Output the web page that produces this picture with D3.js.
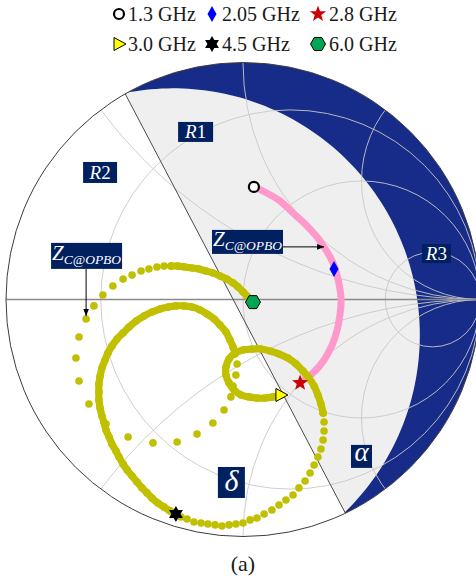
<!DOCTYPE html>
<html>
<head>
<meta charset="utf-8">
<script src="https://cdn.jsdelivr.net/npm/d3@7"></script>
<style>
  html, body { margin: 0; padding: 0; background: #ffffff; }
  svg { display: block; }
</style>
</head>
<body>
<svg id="chart" width="476" height="582"></svg>
<script>
// ---- Smith chart grid values ----
const gridResistance = [0.25, 1, 4];
const gridReactance = [0.5, 1, 2, -0.5, -1, -2];

// ---- Reflection-coefficient traces, [Re(Γ), Im(Γ)] ----
// Z_C from 1.3 GHz to 2.8 GHz
const zcTrace = [
  [0.046, 0.475], [0.101, 0.449], [0.156, 0.416], [0.211, 0.365], [0.262, 0.319],
  [0.312, 0.264], [0.350, 0.209], [0.380, 0.154], [0.401, 0.086], [0.414, -0.002],
  [0.409, -0.065], [0.397, -0.129], [0.376, -0.192], [0.342, -0.255], [0.300, -0.306],
  [0.262, -0.335]
];

// Swept load from 3.0 GHz to 6.0 GHz, split where the sample density changes
const sweepLoop = [
  [0.160, -0.403], [0.127, -0.411], [0.093, -0.416], [0.059, -0.416], [0.025, -0.411],
  [-0.008, -0.403], [-0.038, -0.382], [-0.059, -0.352], [-0.072, -0.319], [-0.072, -0.285],
  [-0.059, -0.251], [-0.034, -0.226], [0.000, -0.213], [0.038, -0.209], [0.076, -0.209],
  [0.114, -0.217], [0.152, -0.230], [0.190, -0.247], [0.224, -0.272], [0.253, -0.302],
  [0.278, -0.331], [0.300, -0.365], [0.316, -0.403], [0.329, -0.441], [0.338, -0.479]
];
const sweepOuter = [
  [0.338, -0.479], [0.342, -0.517], [0.342, -0.555], [0.338, -0.593], [0.329, -0.631],
  [0.316, -0.665], [0.300, -0.698], [0.283, -0.732], [0.262, -0.766], [0.236, -0.795],
  [0.211, -0.825], [0.181, -0.846], [0.152, -0.867], [0.122, -0.888], [0.089, -0.905],
  [0.059, -0.922], [0.030, -0.930], [0.000, -0.943], [-0.030, -0.947], [-0.059, -0.951],
  [-0.089, -0.956], [-0.118, -0.951], [-0.148, -0.947], [-0.177, -0.943], [-0.207, -0.939],
  [-0.236, -0.926], [-0.262, -0.918], [-0.283, -0.905]
];
const sweepInner = [
  [-0.283, -0.905], [-0.308, -0.892], [-0.333, -0.876], [-0.359, -0.859], [-0.384, -0.838],
  [-0.405, -0.816], [-0.426, -0.795], [-0.447, -0.770], [-0.468, -0.745], [-0.489, -0.719],
  [-0.506, -0.694], [-0.523, -0.665], [-0.536, -0.639], [-0.553, -0.610], [-0.565, -0.580],
  [-0.578, -0.551], [-0.586, -0.521], [-0.595, -0.492], [-0.603, -0.458], [-0.608, -0.424],
  [-0.608, -0.390], [-0.608, -0.357], [-0.603, -0.323], [-0.595, -0.289], [-0.582, -0.255],
  [-0.570, -0.226], [-0.553, -0.196], [-0.532, -0.167], [-0.506, -0.141], [-0.481, -0.116],
  [-0.451, -0.091], [-0.418, -0.070], [-0.384, -0.053], [-0.350, -0.040], [-0.316, -0.032],
  [-0.283, -0.027], [-0.249, -0.027], [-0.215, -0.032], [-0.181, -0.044], [-0.152, -0.061],
  [-0.122, -0.082], [-0.097, -0.108], [-0.072, -0.137], [-0.055, -0.171], [-0.042, -0.200],
  [-0.034, -0.230]
];
const sweepWide = [
  [-0.025, -0.272], [-0.030, -0.319], [-0.042, -0.365], [-0.051, -0.411], [-0.080, -0.466],
  [-0.127, -0.521], [-0.194, -0.568], [-0.278, -0.601], [-0.380, -0.605], [-0.485, -0.580],
  [-0.578, -0.525], [-0.650, -0.441], [-0.692, -0.344], [-0.705, -0.247], [-0.692, -0.158],
  [-0.662, -0.082], [-0.629, -0.027], [-0.591, 0.019], [-0.549, 0.057], [-0.506, 0.086],
  [-0.468, 0.103], [-0.430, 0.120], [-0.397, 0.129], [-0.363, 0.137], [-0.333, 0.141],
  [-0.304, 0.141]
];
const sweepTail = [
  [-0.304, 0.141], [-0.274, 0.141], [-0.245, 0.137], [-0.215, 0.133], [-0.186, 0.129],
  [-0.156, 0.120], [-0.127, 0.112], [-0.097, 0.099], [-0.068, 0.086], [-0.042, 0.070],
  [-0.021, 0.053], [0.000, 0.032], [0.017, 0.015], [0.034, -0.002]
];

// Frequency markers
const markerLabels = ["1.3 GHz", "2.05 GHz", "2.8 GHz", "3.0 GHz", "4.5 GHz", "6.0 GHz"];
const markerPoints = [
  [0.046, 0.475], [0.384, 0.129], [0.241, -0.352],
  [0.160, -0.403], [-0.283, -0.905], [0.042, -0.011]
];

// Operating regions: chord end angles on |Γ|=1 (deg) and the bounding contour circle
const regionTipAngles = [119.8, -64.4];
const regionContour = { cx: -0.295, cy: -0.150, r: 1.041 };

// ---- Layout ----
const svg = d3.select("#chart");
const x = d3.scaleLinear().domain([-1, 1]).range([6, 480]);
const y = d3.scaleLinear().domain([-1, 1]).range([536.5, 62.5]);
const R = x(1) - x(0);
const font = "'Liberation Serif', 'Times New Roman', serif";
const line = d3.line().x(d => x(d[0])).y(d => y(d[1]));

const defs = svg.append("defs");
defs.append("clipPath").attr("id", "disk")
  .append("circle").attr("cx", x(0)).attr("cy", y(0)).attr("r", R);
defs.append("marker").attr("id", "head")
  .attr("viewBox", "0 0 10 10").attr("refX", 10).attr("refY", 5)
  .attr("markerWidth", 7).attr("markerHeight", 7).attr("orient", "auto")
  .attr("markerUnits", "userSpaceOnUse")
  .append("path").attr("d", "M0,1 L10,5 L0,9 Z").attr("fill", "#000");

function arc(cx, cy, r, a0, a1, n = 120) {
  return d3.range(n + 1).map(i => {
    const a = (a0 + (a1 - a0) * i / n) * Math.PI / 180;
    return [cx + r * Math.cos(a), cy + r * Math.sin(a)];
  });
}
const deg = (p, c) => Math.atan2(p[1] - c[1], p[0] - c[0]) * 180 / Math.PI;

// ---- Regions ----
const tipA = [Math.cos(regionTipAngles[0] * Math.PI / 180), Math.sin(regionTipAngles[0] * Math.PI / 180)];
const tipB = [Math.cos(regionTipAngles[1] * Math.PI / 180), Math.sin(regionTipAngles[1] * Math.PI / 180)];
const cc = [regionContour.cx, regionContour.cy];
const cA = deg(tipA, cc), cB = deg(tipB, cc);
const contourArc = arc(cc[0], cc[1], regionContour.r, cB, cA);

const regions = svg.append("g").attr("clip-path", "url(#disk)");
regions.append("path")
  .attr("d", line([tipA, tipB, ...contourArc]) + "Z")
  .attr("fill", "#efefef");
regions.append("path")
  .attr("d", line([...arc(0, 0, 1, regionTipAngles[0], regionTipAngles[1]), ...contourArc]) + "Z")
  .attr("fill", "#172c88");

// ---- Grid ----
const grid = svg.append("g").attr("clip-path", "url(#disk)")
  .attr("fill", "none").attr("stroke", "#c8c8c8").attr("stroke-width", 0.9);
grid.selectAll("circle.r").data(gridResistance).join("circle")
  .attr("class", "r")
  .attr("cx", r => x(r / (1 + r))).attr("cy", y(0))
  .attr("r", r => R / (1 + r));
grid.selectAll("circle.x").data(gridReactance).join("circle")
  .attr("class", "x")
  .attr("cx", x(1)).attr("cy", v => y(1 / v))
  .attr("r", v => R / Math.abs(v));

// real axis
svg.append("line")
  .attr("x1", x(-1)).attr("x2", x(1)).attr("y1", y(0)).attr("y2", y(0))
  .attr("stroke", "#8a8a8a").attr("stroke-width", 1.5);

// region chord
svg.append("path").attr("d", line([tipA, tipB]))
  .attr("stroke", "#4a4a4a").attr("stroke-width", 1).attr("fill", "none");

// boundary circle
svg.append("circle").attr("cx", x(0)).attr("cy", y(0)).attr("r", R)
  .attr("fill", "none").attr("stroke", "#3c3c3c").attr("stroke-width", 1);

// ---- Traces ----
const smooth = d3.line().x(d => x(d[0])).y(d => y(d[1])).curve(d3.curveCatmullRom);
svg.append("path").attr("d", smooth(zcTrace))
  .attr("fill", "none").attr("stroke", "#ff99cc").attr("stroke-width", 7)
  .attr("stroke-linecap", "round");

const olive = "#c0c000";
const traces = svg.append("g");
[sweepLoop, sweepInner, sweepTail].forEach(seg => {
  traces.append("path").attr("d", smooth(seg))
    .attr("fill", "none").attr("stroke", olive).attr("stroke-width", 7.2)
    .attr("stroke-linecap", "round").attr("stroke-linejoin", "round");
});
const allDots = [].concat(sweepLoop, sweepOuter, sweepInner, sweepWide, sweepTail);
traces.selectAll("circle").data(allDots).join("circle")
  .attr("cx", d => x(d[0])).attr("cy", d => y(d[1])).attr("r", 3.8)
  .attr("fill", olive);

// ---- Marker shapes ----
function starPath(n, ro, ri, rot = -90) {
  const p = d3.path();
  for (let i = 0; i < 2 * n; i++) {
    const a = (rot + i * 180 / n) * Math.PI / 180;
    const r = i % 2 ? ri : ro;
    i ? p.lineTo(r * Math.cos(a), r * Math.sin(a)) : p.moveTo(r * Math.cos(a), r * Math.sin(a));
  }
  p.closePath();
  return p.toString();
}
function polyPath(n, r, rot) { return starPath(n / 2, r, r, rot); }
const shapes = [
  g => g.append("circle").attr("r", 5).attr("fill", "#fff").attr("stroke", "#000").attr("stroke-width", 2.2),
  g => g.append("path").attr("d", "M0,-8 L4.5,0 L0,8 L-4.5,0 Z").attr("fill", "#0000ff"),
  g => g.append("path").attr("d", starPath(5, 8.5, 3.5)).attr("fill", "#cc0000"),
  g => g.append("path").attr("d", "M7,0 L-5,-6.5 L-5,6.5 Z").attr("fill", "#ffff00").attr("stroke", "#000").attr("stroke-width", 1),
  g => g.append("path").attr("d", starPath(6, 8, 4.6)).attr("fill", "#000"),
  g => g.append("path").attr("d", polyPath(6, 7.5, 0)).attr("fill", "#00a651").attr("stroke", "#000").attr("stroke-width", 1)
];

const marks = svg.append("g");
markerPoints.forEach((p, i) => {
  shapes[i](marks.append("g").attr("transform", `translate(${x(p[0])},${y(p[1])})`));
});

// ---- Annotations ----
function box(cxp, cyp, w, h) {
  return svg.append("rect").attr("x", cxp - w / 2).attr("y", cyp - h / 2)
    .attr("width", w).attr("height", h).attr("fill", "#002060");
}
function label(g, w, h, size, parts) {
  box(x(g[0]), y(g[1]), w, h);
  const t = svg.append("text").attr("x", x(g[0])).attr("y", y(g[1]) + size * 0.34)
    .attr("text-anchor", "middle").attr("fill", "#fff")
    .attr("font-family", font).attr("font-size", size);
  parts.forEach(pt => {
    const s = t.append("tspan").text(pt.t);
    if (pt.i) s.attr("font-style", "italic");
    if (pt.size) s.attr("font-size", pt.size);
    if (pt.dy) s.attr("dy", pt.dy);
  });
  return t;
}

// arrows to the Z_C@OPBO points
svg.append("line").attr("x1", x(-0.662)).attr("x2", x(-0.662))
  .attr("y1", y(0.184) + 13).attr("y2", y(-0.070))
  .attr("stroke", "#000").attr("stroke-width", 1).attr("marker-end", "url(#head)");
svg.append("line").attr("x1", x(0.019) + 35).attr("x2", x(0.342))
  .attr("y1", y(0.222)).attr("y2", y(0.222))
  .attr("stroke", "#000").attr("stroke-width", 1).attr("marker-end", "url(#head)");

label([-0.200, 0.707], 35, 20, 19, [{ t: "R", i: true }, { t: "1" }]);
label([-0.603, 0.536], 34, 21, 19, [{ t: "R", i: true }, { t: "2" }]);
label([0.816, 0.194], 29, 19, 19, [{ t: "R", i: true }, { t: "3" }]);
label([0.500, -0.662], 21, 23, 27, [{ t: "α", i: true }]).attr("y", y(-0.662) + 5);
label([-0.049, -0.772], 27, 31, 30, [{ t: "δ", i: true }]).attr("y", y(-0.772) + 9);
label([-0.660, 0.184], 71, 26, 21, [{ t: "Z", i: true }, { t: "C@OPBO", i: true, size: 13.5, dy: 4 }])
  .attr("y", y(0.184) + 4);
label([0.019, 0.243], 71, 24, 21, [{ t: "Z", i: true }, { t: "C@OPBO", i: true, size: 13.5, dy: 4 }])
  .attr("y", y(0.243) + 4);

// ---- Legend ----
const legendCols = [[119, 128], [212, 222], [318, 329]];
const legendRows = [14, 44];
markerLabels.forEach((lab, i) => {
  const col = legendCols[i % 3], row = legendRows[Math.floor(i / 3)];
  shapes[i](svg.append("g").attr("transform", `translate(${col[0]},${row})`));
  svg.append("text").attr("x", col[1]).attr("y", row + 7)
    .attr("font-family", font).attr("font-size", 20).attr("fill", "#1a1a1a")
    .text(lab);
});

// caption
svg.append("text").attr("x", 243).attr("y", 571).attr("text-anchor", "middle")
  .attr("font-family", font).attr("font-size", 22).attr("fill", "#1a1a1a").text("(a)");
</script>
</body>
</html>
